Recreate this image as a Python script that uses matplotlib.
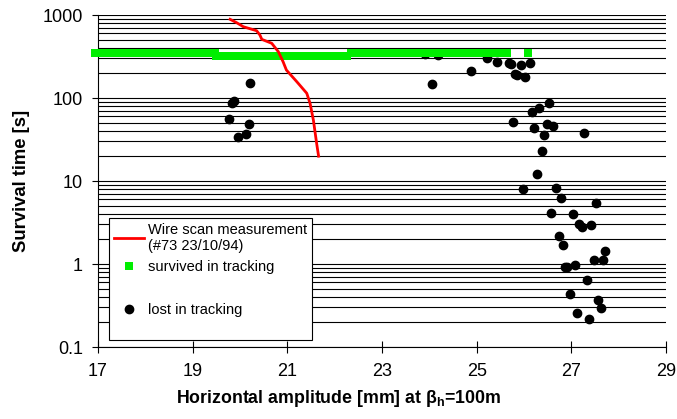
import matplotlib
matplotlib.use("Agg")
import matplotlib.pyplot as plt
from matplotlib.lines import Line2D

# wire scan measurement (#73 23/10/94)
wire_x = [19.79, 19.93, 20.07, 20.35, 20.42, 20.46, 20.67, 20.81, 20.91,
          20.98, 21.20, 21.41, 21.48, 21.55, 21.62, 21.66]
wire_y = [887, 807, 722, 647, 574, 509, 456, 361, 273,
          217, 157, 114, 86, 54, 28, 19.9]

# survived in tracking
surv_x = [16.93, 17.08, 17.23, 17.38, 17.53, 17.68, 17.83, 17.98, 18.13,
          18.28, 18.43, 18.58, 18.73, 18.88, 19.03, 19.18, 19.33, 19.48,
          19.49, 19.64, 19.80, 19.95, 20.11, 20.26, 20.42, 20.57, 20.73,
          20.88, 21.04, 21.19, 21.35, 21.50, 21.66, 21.81, 21.96, 22.12,
          22.27,
          22.34, 22.49, 22.64, 22.79, 22.94, 23.09, 23.24, 23.39, 23.54,
          23.69, 23.84, 23.99, 24.14, 24.29, 24.44, 24.59, 24.74, 24.89,
          25.04, 25.19, 25.34, 25.49, 25.63,
          26.08]
surv_y = [345] * 18 + [318] * 19 + [345] * 23 + [345]

# lost in tracking
lost_x = [20.22, 19.87, 19.82, 19.77, 20.18, 20.13, 19.95,
          23.91, 24.19, 25.21, 25.42, 25.68, 25.72, 25.93, 26.12, 24.88,
          25.81, 25.86, 26.02, 24.05, 26.52, 26.32, 26.17, 25.77, 26.22,
          26.48, 26.62, 27.27, 26.42, 26.37, 26.27,
          25.98, 26.67, 26.78, 27.52, 26.57, 27.03, 27.17, 27.22, 27.42,
          26.73, 26.82, 27.72, 27.47, 27.67, 27.08, 26.91, 26.86, 27.32,
          26.97, 27.57, 27.62, 27.12, 27.37]
lost_y = [152, 92.5, 86, 55.2, 48, 36.4, 34,
          336, 329, 305, 269, 261, 256, 252, 261, 213,
          193, 189, 177, 146, 87.5, 75.5, 67, 51.2, 43.3,
          48.4, 45.8, 38, 35.4, 22.7, 12.3,
          7.96, 8.35, 6.2, 5.45, 4.17, 3.98, 3.01, 2.79, 2.99,
          2.16, 1.71, 1.42, 1.11, 1.12, 0.98, 0.91, 0.91, 0.65,
          0.435, 0.368, 0.294, 0.254, 0.219]

x_ticks = [17, 19, 21, 23, 25, 27, 29]
y_ticks = [0.1, 1, 10, 100, 1000]
y_tick_labels = ["0.1", "1", "10", "100", "1000"]

GREEN = "#00ee00"

plt.rcParams["font.family"] = ["Liberation Sans", "DejaVu Sans"]
plt.rcParams["mathtext.fontset"] = "custom"
plt.rcParams["mathtext.rm"] = "Liberation Sans:bold"
plt.rcParams["mathtext.bf"] = "Liberation Sans:bold"
plt.rcParams["mathtext.it"] = "Liberation Sans:bold:italic"

fig = plt.figure(figsize=(6.77, 4.19), dpi=100)
ax = fig.add_axes([0.1448, 0.1718, 0.8390, 0.7924])

ax.set_yscale("log")
ax.set_xlim(17, 29)
ax.set_ylim(0.1, 1000)

ax.grid(True, which="both", axis="y", color="black", lw=0.8)
ax.set_axisbelow(True)

ax.plot(lost_x, lost_y, "o", color="black", ms=6, zorder=3)
ax.plot(surv_x, surv_y, "s", color=GREEN, ms=6.2, mew=0, zorder=4, clip_on=False)
ax.plot(wire_x, wire_y, color="red", lw=2, zorder=5)

ax.set_xticks(x_ticks)
ax.set_yticks(y_ticks)
ax.set_yticklabels(y_tick_labels)
ax.yaxis.set_minor_locator(matplotlib.ticker.LogLocator(base=10, subs=range(2, 10)))
ax.yaxis.set_minor_formatter(matplotlib.ticker.NullFormatter())
ax.tick_params(axis="y", which="minor", length=0)
ax.tick_params(axis="y", which="major", direction="out", length=4.5, width=0.8,
               labelsize=13, pad=6.5)
ax.tick_params(axis="x", direction="inout", length=9, width=0.8, labelsize=13, pad=7)

for s in ["top", "right"]:
    ax.spines[s].set_visible(False)
for s in ["left", "bottom"]:
    ax.spines[s].set_linewidth(0.8)

ax.set_ylabel("Survival time [s]", fontsize=13.3, fontweight="bold", labelpad=9)
ax.set_xlabel(r"Horizontal amplitude [mm] at $\mathrm{\beta_h}$=100m",
              fontsize=12.8, fontweight="bold", labelpad=6)
# title of the x axis is centred on the figure, not on the axes
ax.xaxis.label.set_x((0.5 - 0.1448) / 0.8390)

blank = Line2D([], [], ls="none")
handles = [
    Line2D([], [], color="red", lw=2),
    Line2D([], [], marker="s", ls="none", color=GREEN, ms=6.2, mew=0),
    blank,
    Line2D([], [], marker="o", ls="none", color="black", ms=6),
    blank,
]
labels = ["Wire scan measurement\n(#73 23/10/94)", "survived in tracking", " ",
          "lost in tracking", " "]
leg = ax.legend(handles, labels, loc="upper left", bbox_to_anchor=(0.02, 0.39),
                borderaxespad=0, fontsize=10.5, frameon=True, fancybox=False,
                framealpha=1, edgecolor="black", handlelength=2.05,
                handletextpad=0.25, borderpad=0.35, labelspacing=0.5)
leg.get_texts()[4].set_fontsize(3)
leg.get_frame().set_linewidth(0.8)
leg.set_zorder(6)

fig.savefig("out.png", dpi=100)
